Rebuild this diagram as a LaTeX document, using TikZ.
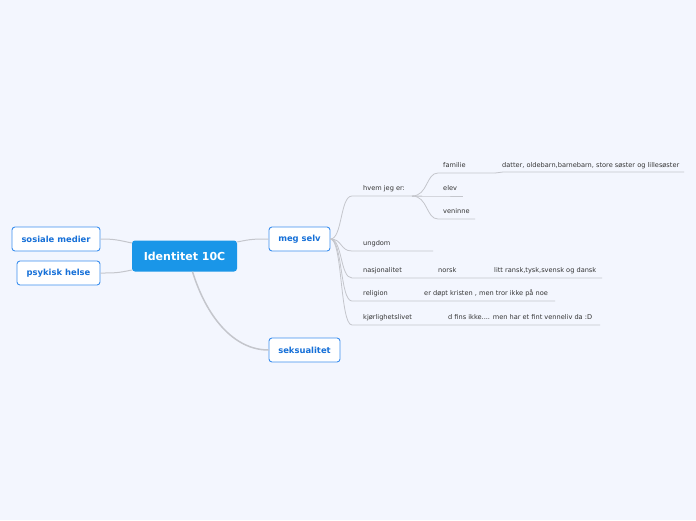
\documentclass[tikz,border=0pt]{standalone}
\usepackage{fontspec}
\setmainfont{DejaVu Sans}
\usetikzlibrary{positioning,calc}
\definecolor{bgblue}{HTML}{F3F6FE}
\definecolor{rootblue}{HTML}{1A96E8}
\definecolor{topicline}{HTML}{3C8FEF}
\definecolor{topictext}{HTML}{1670D8}
\definecolor{branch}{HTML}{C4C6CC}
\definecolor{leaftext}{HTML}{333333}

\begin{document}
\begin{tikzpicture}[x=1pt,y=-1pt,
  root/.style={fill=rootblue, rounded corners=3pt, text=white,
    font=\bfseries\fontsize{11}{13}\selectfont,
    minimum width=105pt, minimum height=31pt, inner sep=0pt},
  topic/.style={draw=topicline, fill=white, rounded corners=3pt, line width=0.9pt,
    text=topictext, font=\bfseries\fontsize{8.4}{10}\selectfont,
    minimum height=24pt, inner sep=0pt},
  leaf/.style={anchor=base west, text=leaftext,
    font=\fontsize{6.6}{8}\selectfont, inner sep=0pt},
  link/.style={draw=branch, line width=0.8pt}]
  % canvas 696 x 520 px, y points down

  \fill[bgblue] (0,0) rectangle (696,520);
  \useasboundingbox (0,0) rectangle (696,520);

  % -- main topics --
  \node[root] (root) at (184.5,256) {Identitet 10C};
  \node[topic, minimum width=88pt] (sosiale) at (56,239) {sosiale medier};
  \node[topic, minimum width=83pt] (psykisk) at (58.5,273) {psykisk helse};
  \node[topic, minimum width=61pt] (meg) at (299.5,239) {meg selv};
  \node[topic, minimum width=71pt] (seks) at (304.5,350) {seksualitet};

  \draw[link, line width=1pt] ($(root.west)+(0,-13)$) .. controls +(-14,-3) and +(14,0) .. (sosiale.east);
  \draw[link, line width=1pt] ($(root.west)+(0,14)$) .. controls +(-14,3) and +(14,0) .. (psykisk.east);
  \draw[link, line width=1pt] ($(root.east)+(0,-14)$) .. controls +(14,-3) and +(-14,0) .. (meg.west);
  \draw[link, line width=1.5pt] ($(root.south)+(8,0)$) .. controls +(14,45) and +(-35,0) .. (seks.west);

  % -- branches of meg selv --
  \foreach \name/\txt/\y/\xe in {hvem/hvem jeg er:/196/422, ungdom/ungdom/251/433,
      nasjon/nasjonalitet/278/602, relig/religion/301/555, kjor/kjørlighetslivet/325/600}{
    \coordinate (\name-a) at (352,\y);
    \coordinate (\name-b) at (\xe,\y);
    \node[leaf] (\name) at (363,\y-5.5) {\txt};
    \draw[link] (meg.east) .. controls +(12,0) and +(-12,0) .. (\name-a) -- (\name-b);
  }

  % -- hvem jeg er: three sub-branches --
  \coordinate (hvem-j) at (412,196);
  \foreach \name/\txt/\y/\xe in {familie/familie/173/495, elev/elev/196/463, veninne/veninne/219/475}{
    \coordinate (\name-a) at (438,\y);
    \coordinate (\name-b) at (\xe,\y);
    \node[leaf] (\name) at (443,\y-5.5) {\txt};
    \draw[link] (hvem-j) .. controls +(16,0) and +(-12,0) .. (\name-a) -- (\name-b);
  }
  \coordinate (datter-b) at (684,172);
  \node[leaf] (datter) at (502,167.5) {datter, oldebarn,barnebarn, store søster og lillesøster};
  \draw[link] (familie-b) .. controls +(4,0) and +(-4,0) .. ($(familie-b)+(8,-1)$) -- (datter-b);

  % -- texts further along the lines --
  \node[leaf] (norsk) at (438,272.5) {norsk};
  \node[leaf] (litt) at (494,272.5) {litt ransk,tysk,svensk og dansk};
  \node[leaf] (doept) at (424,295.5) {er døpt kristen , men tror ikke på noe};
  \node[leaf] (venneliv) at (448,319.5) {d fins ikke.... men har et fint venneliv da :D};
\end{tikzpicture}
\end{document}
